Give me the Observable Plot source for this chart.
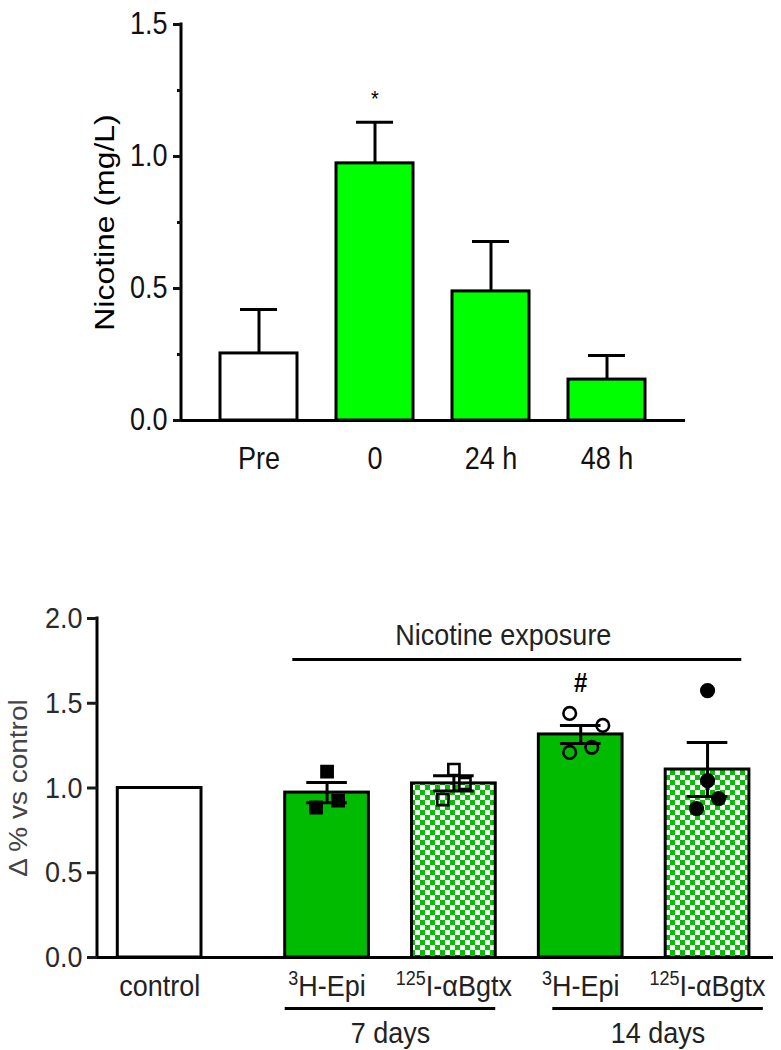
<!DOCTYPE html>
<html>
<head>
<meta charset="utf-8">
<script src="https://cdn.jsdelivr.net/npm/d3@7"></script>
<script src="https://cdn.jsdelivr.net/npm/@observablehq/plot@0.6"></script>
<style>
  html, body { margin: 0; padding: 0; background: white; }
  body { width: 781px; height: 1050px; position: relative; overflow: hidden; font-family: "Liberation Sans", Arial, sans-serif; }
  #top { position: absolute; left: 0; top: 0; }
  #bottom { position: absolute; left: 0; top: 540px; }
</style>
</head>
<body>
<svg width="0" height="0" style="position:absolute">
  <defs>
    <pattern id="checker" width="10" height="10" patternUnits="userSpaceOnUse">
      <rect width="10" height="10" fill="white"/>
      <rect width="5" height="5" fill="#00c000"/>
      <rect x="5" y="5" width="5" height="5" fill="#00c000"/>
    </pattern>
  </defs>
</svg>
<div id="top"></div>
<div id="bottom"></div>
<script>
// ---------- Data: top panel (plasma nicotine) ----------
const timeCats = ["Pre", "0", "24 h", "48 h"];
const nicMean = [0.254, 0.974, 0.489, 0.155];
const nicSem  = [0.166, 0.156, 0.189, 0.091];
const nicTicks = [0, 0.5, 1.0, 1.5];
const nicMinorTicks = [0.25, 0.75, 1.25];
const nicSigCat = ["0"];
const nicSigValue = [1.22];

// ---------- Data: bottom panel (binding vs control) ----------
const bindCats   = ["control", "3H-Epi 7d", "125I 7d", "3H-Epi 14d", "125I 14d"];
const bindSup    = ["", "3", "125", "3", "125"];
const bindMain   = ["control", "H-Epi", "I-αBgtx", "H-Epi", "I-αBgtx"];
const bindMean   = [1.0, 0.973, 1.027, 1.316, 1.109];
const bindSem    = [0, 0.06, 0.045, 0.053, 0.159];
const bindTicks  = [0, 0.5, 1.0, 1.5, 2.0];
// individual points
const ptCat   = ["3H-Epi 7d","3H-Epi 7d","3H-Epi 7d",
                 "125I 7d","125I 7d","125I 7d",
                 "3H-Epi 14d","3H-Epi 14d","3H-Epi 14d","3H-Epi 14d",
                 "125I 14d","125I 14d","125I 14d","125I 14d"];
const ptValue = [1.097, 0.885, 0.926,
                 1.109, 1.027, 0.932,
                 1.44, 1.369, 1.21, 1.24,
                 1.575, 1.044, 0.938, 0.879];
const ptSide  = [0, -1, 1,
                 0, 1, -1,
                 -1, 2, -1, 1,
                 0, 0, 1, -1];
const groupLabels = ["7 days", "14 days"];
const groupMembers = [["3H-Epi 7d", "125I 7d"], ["3H-Epi 14d", "125I 14d"]];
const exposureLabel = "Nicotine exposure";
const sigCat = ["3H-Epi 14d"];
const sigValue = [1.617];

const FONT = "Liberation Sans, Arial, sans-serif";
const NS = "http://www.w3.org/2000/svg";

// y axis line drawn from the plot dimensions
function yAxisLine(color = "black", w = 3) {
  return (index, scales, values, dims) => {
    const l = document.createElementNS(NS, "line");
    const x = dims.marginLeft;
    l.setAttribute("x1", x); l.setAttribute("x2", x);
    l.setAttribute("y1", dims.marginTop - 1.5);
    l.setAttribute("y2", dims.height - dims.marginBottom + 1.5);
    l.setAttribute("stroke", color);
    l.setAttribute("stroke-width", w);
    return l;
  };
}

// the original figure's lettering is slightly tall: stretch each text about its centre
function stretchText(svg, k) {
  svg.querySelectorAll("text").forEach(t => {
    const g = document.createElementNS(NS, "g");
    t.parentNode.insertBefore(g, t);
    g.appendChild(t);
    const b = g.getBBox();
    const cx = b.x + b.width / 2, cy = b.y + b.height / 2;
    g.setAttribute("transform", `translate(${cx},${cy}) scale(1,${k}) translate(${-cx},${-cy})`);
  });
}

// ---------- Top chart ----------
const topRows = timeCats.map((c, i) => ({cat: c, mean: nicMean[i], sem: nicSem[i], first: i === 0}));
const topPlot = Plot.plot({
  width: 781, height: 500,
  marginLeft: 181, marginRight: 96, marginTop: 24, marginBottom: 80,
  style: {fontFamily: FONT, fontSize: "27px", color: "#111", background: "white", overflow: "visible"},
  x: {domain: timeCats, padding: 0.335, axis: null},
  y: {domain: [0, 1.5], axis: null},
  color: {type: "identity"},
  marks: [
    Plot.ruleX(topRows, {x: "cat", y1: "mean", y2: d => d.mean + d.sem, stroke: "black", strokeWidth: 3}),
    Plot.tickY(topRows, {x: "cat", y: d => d.mean + d.sem, stroke: "black", strokeWidth: 3, inset: 20}),
    Plot.barY(topRows, {x: "cat", y: "mean", fill: d => d.first ? "white" : "#00ff00", stroke: "black", strokeWidth: 3}),
    Plot.ruleY([0], {stroke: "black", strokeWidth: 3}),
    yAxisLine(),
    Plot.axisY({ticks: nicTicks, tickFormat: d3.format(".1f"), tickSize: 8, tickPadding: 6, strokeWidth: 3, fontSize: 27, label: null}),
    Plot.axisY({ticks: nicMinorTicks, tickSize: 4, strokeWidth: 3, text: null, label: null}),
    Plot.axisX({tickSize: 0, tickPadding: 28, fontSize: 27, label: null}),
    Plot.text(["Nicotine (mg/L)"], {frameAnchor: "left", textAnchor: "middle", dx: -76, rotate: -90, fontSize: 28, fill: "black"}),
    Plot.text(nicSigCat, {x: d => d, y: (d, i) => nicSigValue[i], text: () => "*", fontSize: 20, fill: "black"})
  ]
});
document.getElementById("top").appendChild(topPlot);
stretchText(topPlot, 1.14);

// ---------- Bottom chart ----------
// horizontal layout: control stands alone, the exposure bars follow after a gap
const gapAfterControl = 0.32;
const pos = c => { const i = bindCats.indexOf(c); return i === 0 ? 0 : i + gapAfterControl; };
const halfBar = 0.33;
const capHalf = 0.16;
const ptStep = 0.087;

const bindRows = bindCats.map((c, i) => ({
  cat: c, mean: bindMean[i], sem: bindSem[i], sup: bindSup[i], main: bindMain[i],
  kind: bindSup[i] === "" ? "control" : (bindSup[i] === "3" ? "epi" : "bgtx")
}));
const errRows = bindRows.filter(d => d.sem > 0);
const ptRows = ptCat.map((c, i) => ({
  cat: c, value: ptValue[i], side: ptSide[i],
  symbol: c.includes("7d") ? "square" : "circle",
  filled: (c.startsWith("3H") && c.includes("7d")) || (c.startsWith("125") && c.includes("14d"))
}));

const groupRows = groupLabels.map((g, i) => {
  const a = pos(groupMembers[i][0]), b = pos(groupMembers[i][1]);
  return i === 0 ? {label: g, x1: a - halfBar, x2: b + halfBar} : {label: g, x1: a - 0.22, x2: b + 0.44};
});
const expStart = pos(bindCats[1]) - 0.27, expEnd = pos(bindCats[bindCats.length - 1]) + 0.27;

const bottomPlot = Plot.plot({
  width: 781, height: 510,
  marginLeft: 97, marginRight: 8, marginTop: 78, marginBottom: 93,
  style: {fontFamily: FONT, fontSize: "27px", color: "#1a1a1a", background: "white", overflow: "visible"},
  x: {type: "linear", domain: [-0.49, 4.84], axis: null},
  y: {domain: [0, 2], axis: null},
  color: {type: "identity"},
  marks: [
    Plot.rectY(bindRows, {x1: d => pos(d.cat) - halfBar, x2: d => pos(d.cat) + halfBar, y1: 0, y2: "mean",
      fill: d => d.kind === "control" ? "white" : d.kind === "epi" ? "#00bb00" : "url(#checker)",
      stroke: "black", strokeWidth: 3}),
    Plot.ruleX(errRows, {x: d => pos(d.cat), y1: d => d.mean - d.sem, y2: d => d.mean + d.sem, stroke: "black", strokeWidth: 3}),
    Plot.ruleY(errRows, {y: d => d.mean + d.sem, x1: d => pos(d.cat) - capHalf, x2: d => pos(d.cat) + capHalf, stroke: "black", strokeWidth: 3}),
    Plot.ruleY(errRows, {y: d => d.mean - d.sem, x1: d => pos(d.cat) - capHalf, x2: d => pos(d.cat) + capHalf, stroke: "black", strokeWidth: 3}),
    Plot.dot(ptRows, {x: d => pos(d.cat) + d.side * ptStep, y: "value", symbol: "symbol", r: 6.3,
      fill: d => d.filled ? "black" : "none", stroke: "black", strokeWidth: 2.6}),
    Plot.ruleY([0], {stroke: "black", strokeWidth: 3}),
    yAxisLine(),
    Plot.axisY({ticks: bindTicks, tickFormat: d3.format(".1f"), tickSize: 10, tickPadding: 5, strokeWidth: 3, fontSize: 27, fill: "#2a2a2a", label: null}),
    Plot.text(["Δ % vs control"], {frameAnchor: "left", textAnchor: "middle", dx: -79, rotate: -90, fontSize: 25, fill: "#444"}),
    // category labels (superscripts added after render)
    Plot.text(bindRows, {x: d => pos(d.cat), frameAnchor: "bottom", lineAnchor: "top", dy: 18,
      text: d => d.sup + "|" + d.main, fontSize: 27, fill: "#222"}),
    // group brackets
    Plot.ruleY(groupRows, {y: () => 0, x1: "x1", x2: "x2", dy: 51, stroke: "black", strokeWidth: 3}),
    Plot.text(groupRows, {x: d => (d.x1 + d.x2) / 2, frameAnchor: "bottom", lineAnchor: "middle", dy: 76, text: "label", fontSize: 27, fill: "#222"}),
    // exposure bracket
    Plot.ruleY([1.758], {x1: expStart, x2: expEnd, stroke: "black", strokeWidth: 3}),
    Plot.text([exposureLabel], {x: (expStart + expEnd) / 2 - 0.11, y: 1.90, fontSize: 27, fill: "#222"}),
    Plot.text(sigCat, {x: d => pos(d), y: (d, i) => sigValue[i], text: () => "#", fontSize: 24, fontWeight: "bold", fill: "black"})
  ]
});
document.getElementById("bottom").appendChild(bottomPlot);

// build superscripts for the category labels
d3.select(bottomPlot).selectAll("text").each(function () {
  const txt = this.textContent;
  if (!txt.includes("|")) return;
  const [s, m] = txt.split("|");
  const t = d3.select(this);
  t.text(null);
  if (s) {
    t.append("tspan").attr("font-size", 18).attr("dy", -10).text(s);
    t.append("tspan").attr("dy", 10).text(m);
  } else {
    t.append("tspan").text(m);
  }
});
stretchText(bottomPlot, 1.12);
</script>
</body>
</html>
